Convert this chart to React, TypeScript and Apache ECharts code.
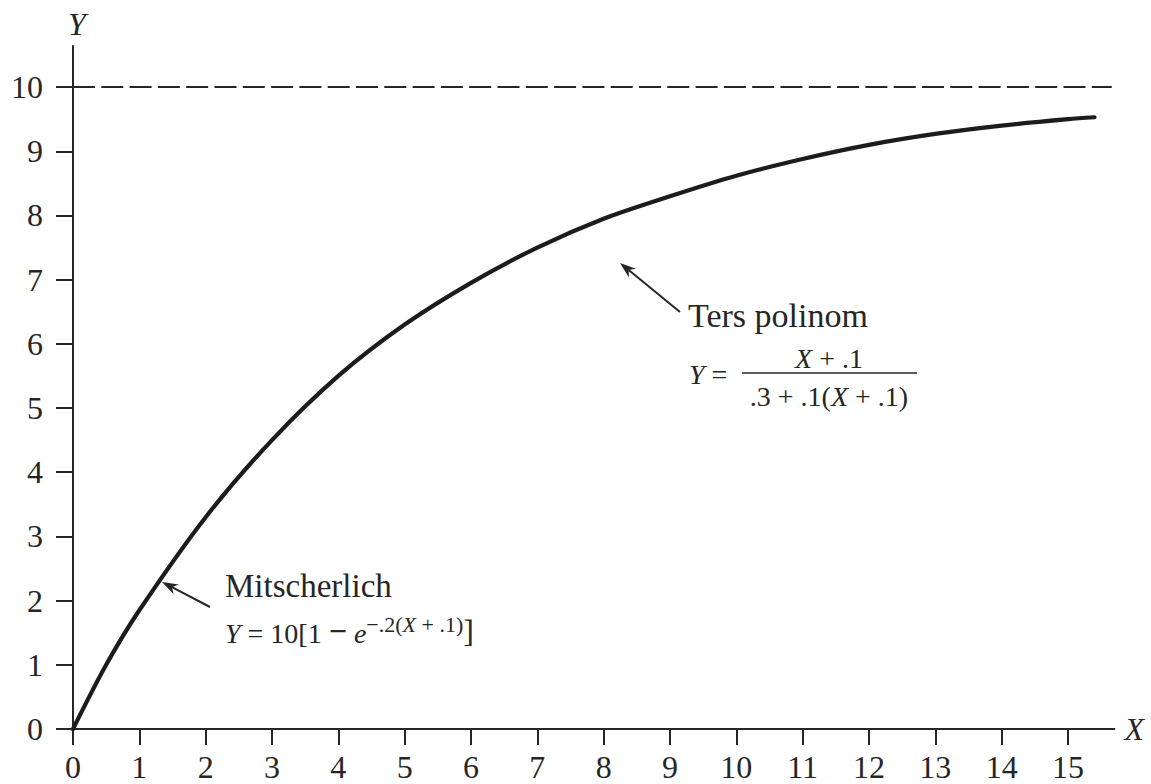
import React, { useEffect, useRef } from "react";
import * as echarts from "echarts";

// Curve
const curveX = [0, 0.5, 1, 2, 3, 4, 5, 6, 7, 8, 9, 10, 11, 12, 13, 14, 15, 15.4];
const curveY = [0, 1.0, 1.85, 3.3, 4.5, 5.5, 6.3, 6.95, 7.5, 7.95, 8.3, 8.62, 8.88, 9.1, 9.27, 9.4, 9.5, 9.53];

// Asymptote
const asymX = [0, 15.66];
const asymY = [10, 10];

// Tick labels
const xTicks = [0, 1, 2, 3, 4, 5, 6, 7, 8, 9, 10, 11, 12, 13, 14, 15];
const yTicks = [0, 1, 2, 3, 4, 5, 6, 7, 8, 9, 10];

const FONT = "Liberation Serif";
const INK = "#262626";

function arrow(tail: number[], tip: number[]) {
  const dx = tip[0] - tail[0];
  const dy = tip[1] - tail[1];
  const len = Math.sqrt(dx * dx + dy * dy);
  const ux = dx / len;
  const uy = dy / len;
  const hl = 16;
  const hw = 5.5;
  const bx = tip[0] - ux * hl;
  const by = tip[1] - uy * hl;
  const notchX = tip[0] - ux * hl * 0.7;
  const notchY = tip[1] - uy * hl * 0.7;
  return [
    {
      type: "line",
      shape: { x1: tail[0], y1: tail[1], x2: notchX, y2: notchY },
      style: { stroke: INK, lineWidth: 2 },
    },
    {
      type: "polygon",
      shape: {
        points: [
          [tip[0], tip[1]],
          [bx - uy * hw, by + ux * hw],
          [notchX, notchY],
          [bx + uy * hw, by - ux * hw],
        ],
      },
      style: { fill: INK },
    },
  ];
}

function txt(text: string, x: number, y: number, size: number, extra: any = {}) {
  return {
    type: "text",
    x,
    y,
    style: {
      text,
      fontFamily: FONT,
      fontSize: size,
      fill: INK,
      align: extra.align || "left",
      verticalAlign: "middle",
      rich: {
        i: { fontFamily: FONT, fontSize: size, fontStyle: "italic", fill: INK },
      },
    },
  };
}

export default function App() {
  const ref = useRef<HTMLDivElement>(null);
  useEffect(() => {
    if (!ref.current) return;
    const chart = echarts.init(ref.current, null, { renderer: "svg" });
    const axisLine = { show: true, lineStyle: { color: INK, width: 2 } };
    chart.setOption({
      animation: false,
      backgroundColor: "#ffffff",
      textStyle: { fontFamily: FONT },
      grid: { left: 73, right: 36.6, top: 46, bottom: 55, containLabel: false },
      xAxis: {
        type: "value",
        min: 0,
        max: 15.7,
        name: "X",
        nameLocation: "end",
        nameGap: 10,
        nameTextStyle: { fontFamily: FONT, fontSize: 32, fontStyle: "italic", color: INK },
        axisLine,
        axisTick: { show: true, inside: false, length: 16, lineStyle: { color: INK, width: 2 }, customValues: xTicks },
        axisLabel: { customValues: xTicks, fontFamily: FONT, fontSize: 32, color: INK, margin: 22 },
        splitLine: { show: false },
      },
      yAxis: {
        type: "value",
        min: 0,
        max: 10.64,
        name: "Y",
        nameLocation: "end",
        nameGap: 6,
        nameTextStyle: { fontFamily: FONT, fontSize: 32, fontStyle: "italic", color: INK, padding: [0, 0, 0, 8] },
        axisLine,
        axisTick: { show: true, inside: false, length: 17, lineStyle: { color: INK, width: 2 }, customValues: yTicks },
        axisLabel: { customValues: yTicks, fontFamily: FONT, fontSize: 32, color: INK, margin: 30 },
        splitLine: { show: false },
      },
      series: [
        {
          type: "line",
          data: asymX.map((x, i) => [x, asymY[i]]),
          symbol: "none",
          lineStyle: { color: INK, width: 2, type: [22, 6.3] },
          z: 1,
        },
        {
          type: "line",
          data: curveX.map((x, i) => [x, curveY[i]]),
          symbol: "none",
          smooth: 0.3,
          lineStyle: { color: "#1c1c1c", width: 4.2, cap: "round" },
          z: 2,
        },
      ],
      graphic: [
        ...arrow([210, 607], [162, 582]),
        ...arrow([680, 312], [620, 263]),
        txt("Mitscherlich", 225, 586, 33),
        {
          type: "text",
          x: 225,
          y: 613,
          style: {
            text: "{i|Y}{m| = 10[1 }{b|−}{m| }{i|e}{s|−.2(}{si|X}{s| + .1)}{br|]}",
            fontFamily: FONT,
            fontSize: 27,
            fill: INK,
            align: "left",
            verticalAlign: "top",
            rich: {
              m: { fontFamily: FONT, fontSize: 28, fill: INK, lineHeight: 34, verticalAlign: "bottom" },
              i: { fontFamily: FONT, fontSize: 28, fontStyle: "italic", fill: INK, lineHeight: 34, verticalAlign: "bottom" },
              b: { fontFamily: FONT, fontSize: 32, fontWeight: "bold", fill: INK, lineHeight: 34, verticalAlign: "bottom" },
              s: { fontFamily: FONT, fontSize: 22, fill: INK, lineHeight: 34, verticalAlign: "top" },
              si: { fontFamily: FONT, fontSize: 22, fontStyle: "italic", fill: INK, lineHeight: 34, verticalAlign: "top" },
              br: { fontFamily: FONT, fontSize: 32, fill: INK, lineHeight: 34, verticalAlign: "bottom" },
            },
          },
        },
        txt("Ters polinom", 688, 315, 34),
        txt("{i|Y} =", 689, 374, 28),
        txt("{i|X} + .1", 829, 358, 28, { align: "center" }),
        {
          type: "line",
          shape: { x1: 742, y1: 373, x2: 917, y2: 373 },
          style: { stroke: INK, lineWidth: 1.5 },
        },
        txt(".3 + .1({i|X} + .1)", 829, 396, 28, { align: "center" }),
      ],
    });
    return () => chart.dispose();
  }, []);
  return (
    <div
      ref={ref}
      style={{ position: "fixed", left: 0, top: 0, width: 1151, height: 784, background: "#fff" }}
    />
  );
}
